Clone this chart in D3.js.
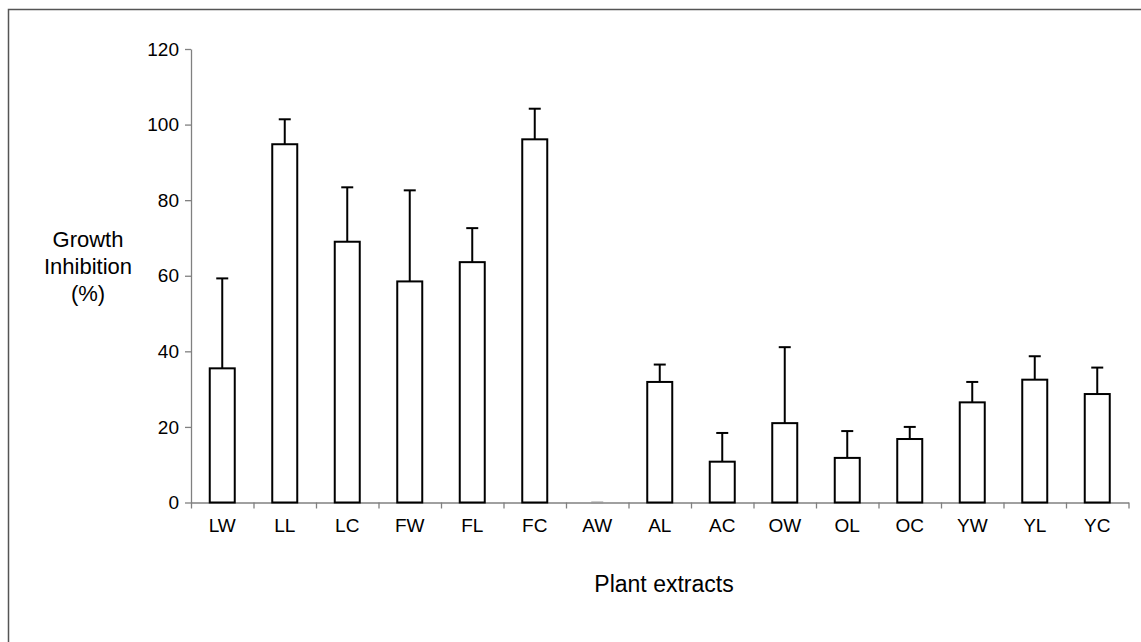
<!DOCTYPE html>
<html>
<head>
<meta charset="utf-8">
<script src="https://cdn.jsdelivr.net/npm/d3@7"></script>
<style>
  html, body { margin: 0; padding: 0; background: #fff; }
  svg { display: block; font-family: "Liberation Sans", Arial, sans-serif; }
</style>
</head>
<body>
<div id="chart"></div>
<script>
// plant extract codes along the x axis
const categories = ["LW", "LL", "LC", "FW", "FL", "FC", "AW", "AL", "AC", "OW", "OL", "OC", "YW", "YL", "YC"];
// mean growth inhibition (%)
const means = [35.5, 94.8, 69.0, 58.5, 63.6, 96.1, 0, 31.9, 10.8, 21.0, 11.8, 16.8, 26.5, 32.5, 28.7];
// upper error (top of whisker, %)
const errTops = [59.3, 101.4, 83.4, 82.6, 72.6, 104.2, 0, 36.5, 18.4, 41.1, 18.9, 20.0, 31.9, 38.7, 35.7];
const yTicks = [0, 20, 40, 60, 80, 100, 120];

const W = 1141, H = 642;
const plot = { left: 191, right: 1128.5, top: 49, bottom: 502.5 };

const svg = d3.select("#chart").append("svg")
  .attr("width", W)
  .attr("height", H);

// outer frame (only top and left edges fall inside the picture)
svg.append("path")
  .attr("d", `M8.5,${H} V9.5 H${W}`)
  .attr("fill", "none")
  .attr("stroke", "#555")
  .attr("stroke-width", 1.5);

const x = d3.scaleBand().domain(categories).range([plot.left, plot.right]).padding(0);
const xEdge = d3.scaleLinear().domain([0, categories.length]).range([plot.left, plot.right]);
const y = d3.scaleLinear().domain([0, 120]).range([plot.bottom, plot.top]);

const barW = x.bandwidth() * 0.4;
const capW = 12;

// y axis
const yAxis = svg.append("g")
  .attr("transform", `translate(${plot.left},0)`)
  .call(d3.axisLeft(y).tickValues(yTicks).tickSize(6).tickPadding(6).tickSizeOuter(0));
yAxis.select(".domain").attr("stroke", "#808080").attr("stroke-width", 1.3);
yAxis.selectAll(".tick line").attr("stroke", "#808080").attr("stroke-width", 1.3);
yAxis.selectAll(".tick text")
  .attr("font-size", 19)
  .attr("fill", "#000")
  .attr("font-family", "Liberation Sans, Arial, sans-serif");

// x axis: ticks on category boundaries
const xTickAxis = svg.append("g")
  .attr("transform", `translate(0,${plot.bottom})`)
  .call(d3.axisBottom(xEdge).tickValues(d3.range(categories.length + 1)).tickSize(6).tickFormat("").tickSizeOuter(0));
xTickAxis.select(".domain").attr("stroke", "#808080").attr("stroke-width", 1.3);
xTickAxis.selectAll(".tick line").attr("stroke", "#808080").attr("stroke-width", 1.3);

const xLabelAxis = svg.append("g")
  .attr("transform", `translate(0,${plot.bottom})`)
  .call(d3.axisBottom(x).tickSize(0).tickPadding(16));
xLabelAxis.select(".domain").remove();
xLabelAxis.selectAll(".tick text")
  .attr("font-size", 19)
  .attr("fill", "#000")
  .attr("font-family", "Liberation Sans, Arial, sans-serif");

// error bars (upper only) drawn before bars
const errG = svg.append("g")
  .attr("stroke", "#000")
  .attr("stroke-width", 2)
  .attr("fill", "none");

errG.selectAll("line.stem")
  .data(categories)
  .join("line")
  .attr("class", "stem")
  .attr("x1", d => x(d) + x.bandwidth() / 2)
  .attr("x2", d => x(d) + x.bandwidth() / 2)
  .attr("y1", (d, i) => y(means[i]))
  .attr("y2", (d, i) => y(errTops[i]));

errG.selectAll("line.cap")
  .data(categories)
  .join("line")
  .attr("class", "cap")
  .attr("x1", d => x(d) + x.bandwidth() / 2 - capW / 2)
  .attr("x2", d => x(d) + x.bandwidth() / 2 + capW / 2)
  .attr("y1", (d, i) => y(errTops[i]))
  .attr("y2", (d, i) => y(errTops[i]))
  .attr("stroke", (d, i) => means[i] === 0 ? "#999" : "#000");

// bars
svg.append("g")
  .selectAll("rect")
  .data(categories)
  .join("rect")
  .attr("x", d => x(d) + (x.bandwidth() - barW) / 2)
  .attr("y", (d, i) => y(means[i]))
  .attr("width", barW)
  .attr("height", (d, i) => y(0) - y(means[i]))
  .attr("fill", "#fff")
  .attr("stroke", "#000")
  .attr("stroke-width", 2);

// y axis title, three centred lines
const yTitle = svg.append("text")
  .attr("text-anchor", "middle")
  .attr("font-size", 22)
  .attr("fill", "#000");
["Growth", "Inhibition", "(%)"].forEach((t, i) => {
  yTitle.append("tspan")
    .attr("x", 88)
    .attr("y", 247 + i * 27)
    .text(t);
});

// x axis title
svg.append("text")
  .attr("x", 664)
  .attr("y", 592)
  .attr("text-anchor", "middle")
  .attr("font-size", 23)
  .attr("fill", "#000")
  .text("Plant extracts");
</script>
</body>
</html>
